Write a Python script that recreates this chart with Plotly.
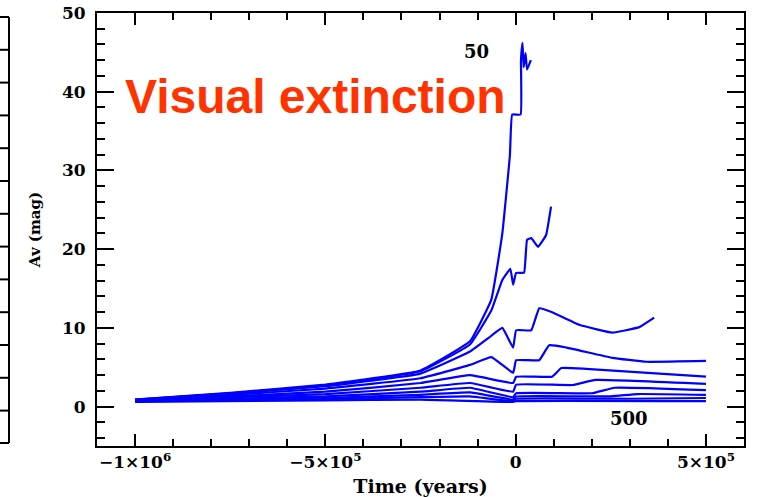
import plotly.graph_objects as go

# ---- data (years, magnitudes) ----
labels = ["50", "100", "150", "200", "250", "300", "350", "400", "450", "500"]

x_c1 = [-1e6, -7.5e5, -5e5, -2.5e5, -1.2e5, -6.4e4, -3.5e4, -1.5e4, -9e3, 1.3e4, 1.4e4, 1.8e4, 2.1e4, 2.6e4, 3e4, 4e4]
y_c1 = [0.9, 1.75, 2.8, 4.6, 8.3, 13.6, 22.0, 32.0, 37.1, 37.1, 44.0, 46.2, 43.1, 44.9, 42.8, 44.0]

x_c2 = [-1e6, -7.5e5, -5e5, -2.5e5, -1.2e5, -6.4e4, -3.5e4, -1.4e4, -6.6e3, 1.3e3, 2.2e4, 3e4, 4.1e4, 5.9e4, 8e4, 9.3e4]
y_c2 = [0.9, 1.7, 2.7, 4.5, 7.9, 12.2, 16.1, 17.5, 15.5, 17.0, 17.0, 21.2, 21.4, 20.3, 21.8, 25.4]

x_c3 = [-1e6, -7.5e5, -5e5, -2.5e5, -1.2e5, -6.4e4, -3.5e4, -6.6e3, 1.3e3, 4.1e4, 6.2e4, 9.6e4, 1.67e5, 2.54e5, 3.25e5, 3.64e5]
y_c3 = [0.85, 1.65, 2.6, 4.2, 7.0, 9.0, 10.0, 7.5, 9.7, 9.7, 12.5, 12.0, 10.4, 9.4, 10.1, 11.3]

x_c4 = [-1e6, -7.5e5, -5e5, -2.5e5, -1.2e5, -6.4e4, -6.6e3, 1.3e3, 6.2e4, 8.8e4, 1.34e5, 2.54e5, 3.43e5, 5e5]
y_c4 = [0.8, 1.5, 2.3, 3.6, 5.3, 6.3, 4.3, 5.9, 5.9, 7.8, 7.5, 6.2, 5.7, 5.8]

x_c5 = [-1e6, -7.5e5, -5e5, -2.5e5, -1.2e5, -6.6e3, 1.3e3, 9.6e4, 1.2e5, 1.85e5, 5e5]
y_c5 = [0.8, 1.3, 1.9, 3.0, 4.0, 3.0, 3.8, 3.8, 4.9, 4.8, 3.8]

x_c6 = [-1e6, -5e5, -2.5e5, -1.2e5, -6.6e3, 1.3e3, 1.5e5, 2.1e5, 5e5]
y_c6 = [0.75, 1.6, 2.4, 3.0, 1.9, 2.8, 2.75, 3.4, 2.9]

x_c7 = [-1e6, -5e5, -2.5e5, -1.2e5, -6.6e3, 1.3e3, 2.0e5, 2.6e5, 5e5]
y_c7 = [0.7, 1.3, 1.9, 2.4, 1.2, 1.7, 1.7, 2.4, 2.1]

x_c8 = [-1e6, -5e5, -2.5e5, -1.2e5, -6.6e3, 1.3e3, 2.5e5, 3.2e5, 5e5]
y_c8 = [0.7, 1.1, 1.5, 1.8, 0.9, 1.3, 1.3, 1.6, 1.5]

x_c9 = [-1e6, -5e5, -2.5e5, -1.2e5, -6.6e3, 1.3e3, 3.0e5, 5e5]
y_c9 = [0.65, 0.95, 1.2, 1.3, 0.7, 1.0, 1.0, 1.1]

x_c10 = [-1e6, -5e5, -2.5e5, -6.6e3, 1.3e3, 5e5]
y_c10 = [0.6, 0.8, 0.9, 0.6, 0.7, 0.7]

series_x = [x_c1, x_c2, x_c3, x_c4, x_c5, x_c6, x_c7, x_c8, x_c9, x_c10]
series_y = [y_c1, y_c2, y_c3, y_c4, y_c5, y_c6, y_c7, y_c8, y_c9, y_c10]

x_tickvals = [-1e6, -5e5, 0, 5e5]
x_ticktext = ["\u22121\u00d710<sup>6</sup>", "\u22125\u00d710<sup>5</sup>", "0", "5\u00d710<sup>5</sup>"]
y_tickvals = [0, 10, 20, 30, 40, 50]

fig = go.Figure()
for xs, ys, name in zip(series_x, series_y, labels):
    fig.add_trace(go.Scatter(x=xs, y=ys, mode="lines", name=name,
                             line=dict(color="#0000FF", width=2.2, shape="spline", smoothing=0.3),
                             showlegend=False))

FONT = "DejaVu Serif"
axis_common = dict(showgrid=False, zeroline=False, showline=True, linecolor="black",
                   linewidth=2, mirror="allticks", ticks="inside", tickcolor="black",
                   tickwidth=2, automargin=False)

fig.update_xaxes(range=[-1.1e6, 6e5], tickvals=x_tickvals, ticktext=x_ticktext,
                 ticklen=12,
                 minor=dict(ticks="inside", ticklen=7, dtick=1e5, tickcolor="black", tickwidth=2),
                 tickfont=dict(family=FONT, size=17, color="black", weight="bold"),
                 title=dict(text="Time (years)", font=dict(family=FONT, size=19, color="black", weight="bold"), standoff=8),
                 **axis_common)
fig.update_yaxes(range=[-5, 50], tickvals=y_tickvals, ticklen=17,
                 minor=dict(ticks="inside", ticklen=8, dtick=2, tickcolor="black", tickwidth=2),
                 tickfont=dict(family=FONT, size=17, color="black", weight="bold"),
                 ticklabelstandoff=6,
                 title=dict(text="Av (mag)", font=dict(family=FONT, size=15, color="black", weight="bold"), standoff=18),
                 **axis_common)

fig.add_annotation(x=-5.27e5, y=39.4, text="Visual extinction", showarrow=False,
                   font=dict(family="Liberation Sans", size=48, color="#FF3300", weight="bold"))
fig.add_annotation(x=-1.04e5, y=45.1, text="50", showarrow=False,
                   font=dict(family=FONT, size=18, color="black", weight="bold"))
fig.add_annotation(x=2.98e5, y=-1.5, text="500", showarrow=False,
                   font=dict(family=FONT, size=18, color="black", weight="bold"))

# decorative edge of a neighbouring panel on the far left
W_PLOT = 647.0
H_PLOT = 433.0
def px2x(px):
    return (px - 97.0) / W_PLOT
def py2y(py):
    return (446.0 - py) / H_PLOT
edge = dict(color="black", width=2)
fig.add_shape(type="line", xref="paper", yref="paper", x0=px2x(9), x1=px2x(9), y0=py2y(17), y1=py2y(443), line=edge)
fig.add_shape(type="line", xref="paper", yref="paper", x0=px2x(-2), x1=px2x(9), y0=py2y(17), y1=py2y(17), line=edge)
fig.add_shape(type="line", xref="paper", yref="paper", x0=px2x(-2), x1=px2x(9), y0=py2y(443), y1=py2y(443), line=edge)
for k in range(1, 13):
    py = 17 + k * 32.8
    fig.add_shape(type="line", xref="paper", yref="paper", x0=px2x(0), x1=px2x(9), y0=py2y(py), y1=py2y(py), line=edge)

fig.update_layout(width=759, height=497, margin=dict(l=97, r=15, t=13, b=51, autoexpand=False),
                  paper_bgcolor="white", plot_bgcolor="white")

fig.write_html("out.html")
